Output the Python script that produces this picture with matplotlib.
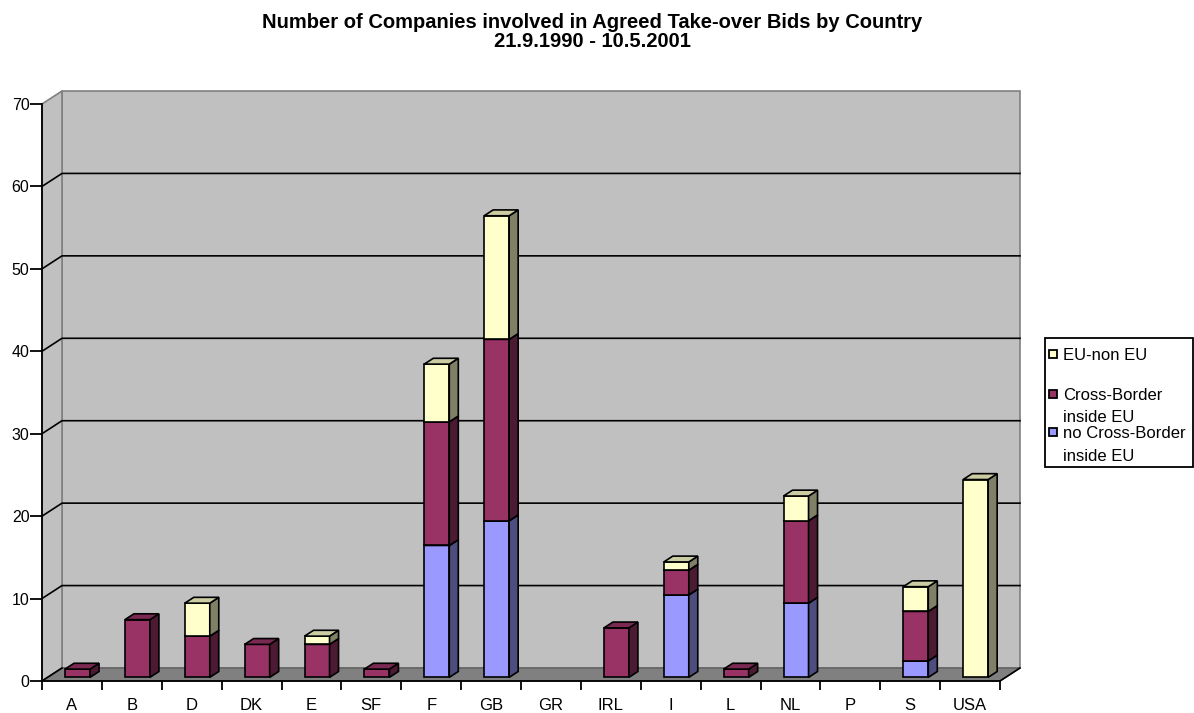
import matplotlib
matplotlib.use("Agg")
import matplotlib.pyplot as plt
from matplotlib.patches import Polygon, Rectangle
import numpy as np

plt.rcParams['font.family'] = ['Liberation Sans', 'DejaVu Sans']

countries = ["A", "B", "D", "DK", "E", "SF", "F", "GB", "GR", "IRL", "I", "L", "NL", "P", "S", "USA"]
no_cross = [0, 0, 0, 0, 0, 0, 16, 19, 0, 0, 10, 0, 9, 0, 2, 0]
cross_eu = [1, 7, 5, 4, 4, 1, 15, 22, 0, 6, 3, 1, 10, 0, 6, 0]
eu_non_eu = [0, 0, 4, 0, 1, 0, 7, 15, 0, 0, 1, 0, 3, 0, 3, 24]
series_names = ["no Cross-Border\ninside EU", "Cross-Border\ninside EU", "EU-non EU"]
front_cols = ["#9999FF", "#993366", "#FFFFCC"]
side_cols = ["#4D4D80", "#4D1A33", "#808066"]
top_cols = ["#7A7ACC", "#7A2952", "#CCCCA3"]
y_ticks = [0, 10, 20, 30, 40, 50, 60, 70]
title_lines = ["Number of Companies involved in Agreed Take-over Bids by Country", "21.9.1990 - 10.5.2001"]

W, H = 1194, 713
fig = plt.figure(figsize=(W / 100, H / 100), dpi=100)
ax_bottom_px, ax_top_px = 681, 104
ax = fig.add_axes([42 / W, (H - ax_bottom_px) / H, 958 / W, (ax_bottom_px - ax_top_px) / H])
n = len(countries)
x0, x1 = -0.5, n - 0.5
ymax = 70
ax.set_xlim(x0, x1)
ax.set_ylim(0, ymax)
ax.patch.set_visible(False)

# depth offsets in data units
px_x = 958 / n
px_y = (ax_bottom_px - ax_top_px) / ymax
DX, DY = 20 / px_x, 13 / px_y

# walls
ax.add_patch(Polygon([(x0 + DX, DY), (x1 + DX, DY), (x1 + DX, ymax + DY), (x0 + DX, ymax + DY)],
                     closed=True, fc="#C0C0C0", ec="#808080", lw=1.2, clip_on=False, zorder=0))
ax.add_patch(Polygon([(x0, 0), (x0 + DX, DY), (x0 + DX, ymax + DY), (x0, ymax)],
                     closed=True, fc="#C0C0C0", ec="#808080", lw=1.2, clip_on=False, zorder=0))
ax.add_patch(Polygon([(x0, 0), (x1, 0), (x1 + DX, DY), (x0 + DX, DY)],
                     closed=True, fc="#808080", ec="#606060", lw=1.0, clip_on=False, zorder=0.5))
# gridlines
for v in y_ticks[1:-1]:
    ax.plot([x0, x0 + DX, x1 + DX], [v, v + DY, v + DY], color="black", lw=1.2, clip_on=False, zorder=0.6)
ax.plot([x0, x0 + DX], [0, DY], color="black", lw=1.2, clip_on=False, zorder=0.6)
ax.plot([x1, x1 + DX], [0, DY], color="black", lw=1.2, clip_on=False, zorder=0.6)

# bars
f = 0.28
d = 0.45
bw = 25 / px_x
ox, oy = f * DX, f * DY
sx, sy = d * DX, d * DY
z = 2
for i in range(n):
    base = 0.0
    for s, vals in enumerate([no_cross, cross_eu, eu_non_eu]):
        v = vals[i]
        if v <= 0:
            continue
        l = i - bw / 2 + ox
        r = i + bw / 2 + ox
        b = base + oy
        t = base + v + oy
        ax.add_patch(Polygon([(l, b), (r, b), (r, t), (l, t)], closed=True,
                             fc=front_cols[s], ec="black", lw=1.2, clip_on=False, zorder=z))
        ax.add_patch(Polygon([(r, b), (r + sx, b + sy), (r + sx, t + sy), (r, t)], closed=True,
                             fc=side_cols[s], ec="black", lw=1.2, clip_on=False, zorder=z))
        ax.add_patch(Polygon([(l, t), (r, t), (r + sx, t + sy), (l + sx, t + sy)], closed=True,
                             fc=top_cols[s], ec="black", lw=1.2, clip_on=False, zorder=z + 0.1))
        z += 0.2
        base += v

# axes
for sp in ["top", "right"]:
    ax.spines[sp].set_visible(False)
ax.spines["left"].set_linewidth(1.3)
ax.spines["bottom"].set_linewidth(1.3)
ax.spines["left"].set_zorder(10)
ax.spines["bottom"].set_zorder(10)
ax.set_yticks(y_ticks)
ax.set_yticklabels([str(v) for v in y_ticks], fontsize=11.5)
ax.tick_params(axis="y", direction="out", length=8.5, width=1.3, pad=0.5)
ax.set_xticks(np.arange(n + 1) - 0.5)
ax.set_xticklabels([])
ax.tick_params(axis="x", which="major", direction="out", length=6.5, width=1.3)
ax.set_xticks(np.arange(n), minor=True)
ax.set_xticklabels(countries, minor=True, fontsize=12)
ax.tick_params(axis="x", which="minor", length=0, pad=12)

fig.text(592 / W, 1 - 27.5 / H, title_lines[0], ha="center", va="baseline", fontsize=14.5, fontweight="bold")
fig.text(592 / W, 1 - 47 / H, title_lines[1], ha="center", va="baseline", fontsize=14.5, fontweight="bold")

# legend
lx0, ly0, lx1, ly1 = 1045, 338, 1193, 467
fig.add_artist(Rectangle((lx0 / W, 1 - ly1 / H), (lx1 - lx0) / W, (ly1 - ly0) / H, transform=fig.transFigure,
                         fc="white", ec="black", lw=1.3))
entries = [(2, [360]), (1, [400, 421.5]), (0, [438, 461])]
for s, baselines in entries:
    yc = baselines[0] - 6
    fig.add_artist(Rectangle((1049 / W, 1 - (yc + 4) / H), 8 / W, 8 / H, transform=fig.transFigure,
                             fc=front_cols[s], ec="black", lw=1.3))
    for line, bl in zip(series_names[s].split("\n"), baselines):
        fig.text(1063 / W, 1 - bl / H, line, ha="left", va="baseline", fontsize=12)

fig.savefig("out.png", dpi=100, facecolor="white")
